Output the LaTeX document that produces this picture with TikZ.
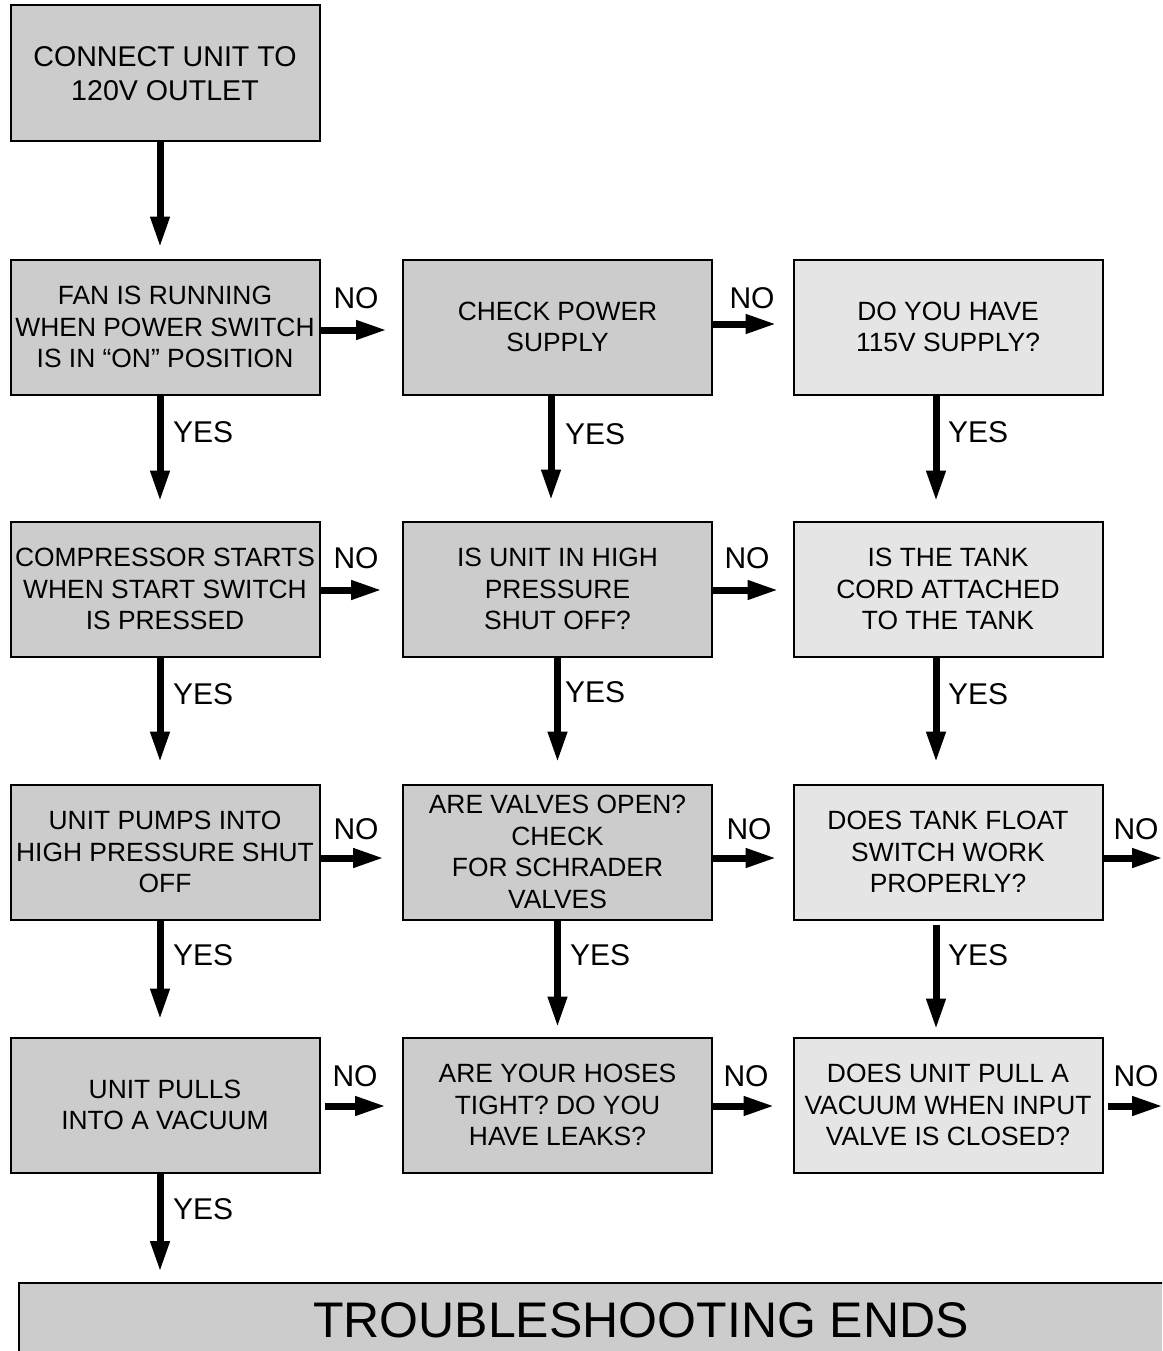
\documentclass[tikz,border=0pt]{standalone}
\usepackage{fontspec}
\setmainfont{Liberation Sans}
\usetikzlibrary{arrows.meta}
\definecolor{boxgray}{HTML}{CCCCCC}
\definecolor{boxlight}{HTML}{E5E5E5}
\tikzset{
  box/.style={draw=black, line width=2pt, minimum width=309pt, minimum height=135pt,
    inner sep=0pt, align=center, font=\fontsize{26.4}{31.7}\selectfont},
  dark/.style={box, fill=boxgray},
  light/.style={box, fill=boxlight},
  arr/.style={line width=7pt, -{Triangle[length=31pt,width=18pt]}},
  lbl/.style={font=\fontsize{30}{36}\selectfont, inner sep=0pt},
}
\begin{document}
\begin{tikzpicture}[x=1pt,y=-1pt]
\clip (0,0) rectangle (1162,1351);
\fill[white] (0,0) rectangle (1162,1351);

% boxes
\node[dark, minimum height=136pt, font=\fontsize{28.6}{34}\selectfont] (start) at (165,73.5) {CONNECT UNIT TO\\120V OUTLET};

\node[dark]  (r1c1) at (165,327)   {FAN IS RUNNING\\WHEN POWER SWITCH\\IS IN “ON” POSITION};
\node[dark]  (r1c2) at (557.5,327) {CHECK POWER\\SUPPLY};
\node[light] (r1c3) at (948,327)   {DO YOU HAVE\\115V SUPPLY?};

\node[dark]  (r2c1) at (165,589)   {COMPRESSOR STARTS\\WHEN START SWITCH\\IS PRESSED};
\node[dark]  (r2c2) at (557.5,589) {IS UNIT IN HIGH\\PRESSURE\\SHUT OFF?};
\node[light] (r2c3) at (948,589)   {IS THE TANK\\CORD ATTACHED\\TO THE TANK};

\node[dark]  (r3c1) at (165,852)   {UNIT PUMPS INTO\\HIGH PRESSURE SHUT\\OFF};
\node[dark]  (r3c2) at (557.5,852) {ARE VALVES OPEN?\\CHECK\\FOR SCHRADER\\VALVES};
\node[light] (r3c3) at (948,852)   {DOES TANK FLOAT\\SWITCH WORK\\PROPERLY?};

\node[dark]  (r4c1) at (165,1105)   {UNIT PULLS\\INTO A VACUUM};
\node[dark]  (r4c2) at (557.5,1105) {ARE YOUR HOSES\\TIGHT? DO YOU\\HAVE LEAKS?};
\node[light] (r4c3) at (948,1105)   {DOES UNIT PULL A\\VACUUM WHEN INPUT\\VALVE IS CLOSED?};

\node[dark, minimum width=1244pt, minimum height=74pt, font=\fontsize{50}{60}\selectfont]
  (end) at (641,1320) {TROUBLESHOOTING ENDS};

\coordinate (out3) at (1163,858);
\coordinate (out4) at (1163,1106);

% vertical arrows (YES)
\draw[arr] ([xshift=-5pt]start.south) -- ([xshift=-5pt,yshift=11pt]r1c1.north);
\draw[arr] ([xshift=-5pt]r1c1.south) -- ([xshift=-5pt,yshift=19pt]r2c1.north);
\draw[arr] ([xshift=-5pt]r2c1.south) -- ([xshift=-5pt,yshift=21pt]r3c1.north);
\draw[arr] ([xshift=-5pt]r3c1.south) -- ([xshift=-5pt,yshift=17pt]r4c1.north);
\draw[arr] ([xshift=-5pt]r4c1.south) -- ([xshift=-481pt,yshift=10pt]end.north);

\draw[arr] ([xshift=-6.5pt]r1c2.south) -- ([xshift=-6.5pt,yshift=20pt]r2c2.north);
\draw[arr] (r2c2.south) -- ([yshift=21pt]r3c2.north);
\draw[arr] (r3c2.south) -- ([yshift=9pt]r4c2.north);

\draw[arr] ([xshift=-12pt]r1c3.south) -- ([xshift=-12pt,yshift=19pt]r2c3.north);
\draw[arr] ([xshift=-12pt]r2c3.south) -- ([xshift=-12pt,yshift=21pt]r3c3.north);
\draw[arr] ([xshift=-12pt,yshift=-4pt]r3c3.south) -- ([xshift=-12pt,yshift=7pt]r4c3.north);

% horizontal arrows (NO)
\draw[arr] ([yshift=-3pt]r1c1.east) -- ([yshift=-3pt,xshift=-15pt]r1c2.west);
\draw[arr] ([yshift=3pt]r1c2.east) -- ([yshift=3pt,xshift=-16pt]r1c3.west);

\draw[arr] ([yshift=-1pt]r2c1.east) -- ([yshift=-1pt,xshift=-20pt]r2c2.west);
\draw[arr] ([yshift=-1pt]r2c2.east) -- ([yshift=-1pt,xshift=-14pt]r2c3.west);

\draw[arr] ([yshift=-6pt]r3c1.east) -- ([yshift=-6pt,xshift=-18pt]r3c2.west);
\draw[arr] ([yshift=-6pt]r3c2.east) -- ([yshift=-6pt,xshift=-16pt]r3c3.west);
\draw[arr] ([yshift=-6pt]r3c3.east) -- (out3);

\draw[arr] ([yshift=-1pt,xshift=4pt]r4c1.east) -- ([yshift=-1pt,xshift=-16pt]r4c2.west);
\draw[arr] ([yshift=-1pt]r4c2.east) -- ([yshift=-1pt,xshift=-18pt]r4c3.west);
\draw[arr] ([yshift=-1pt,xshift=4pt]r4c3.east) -- (out4);

% NO labels
\node[lbl] (n11) at (356,298) {NO};
\node[lbl] (n12) at (752,298) {NO};
\node[lbl] (n21) at (356,558) {NO};
\node[lbl] (n22) at (747,558) {NO};
\node[lbl] (n31) at (356,829) {NO};
\node[lbl] (n32) at (749,829) {NO};
\node[lbl] (n33) at (1136,829) {NO};
\node[lbl] (n41) at (355,1076) {NO};
\node[lbl] (n42) at (746,1076) {NO};
\node[lbl] (n43) at (1136,1076) {NO};

% YES labels
\node[lbl, anchor=west] (y11) at (173,432) {YES};
\node[lbl, anchor=west] (y21) at (173,694) {YES};
\node[lbl, anchor=west] (y31) at (173,955) {YES};
\node[lbl, anchor=west] (y41) at (173,1209) {YES};
\node[lbl, anchor=west] (y12) at (565,434) {YES};
\node[lbl, anchor=west] (y22) at (565,692) {YES};
\node[lbl, anchor=west] (y32) at (570,955) {YES};
\node[lbl, anchor=west] (y13) at (948,432) {YES};
\node[lbl, anchor=west] (y23) at (948,694) {YES};
\node[lbl, anchor=west] (y33) at (948,955) {YES};
\end{tikzpicture}
\end{document}
